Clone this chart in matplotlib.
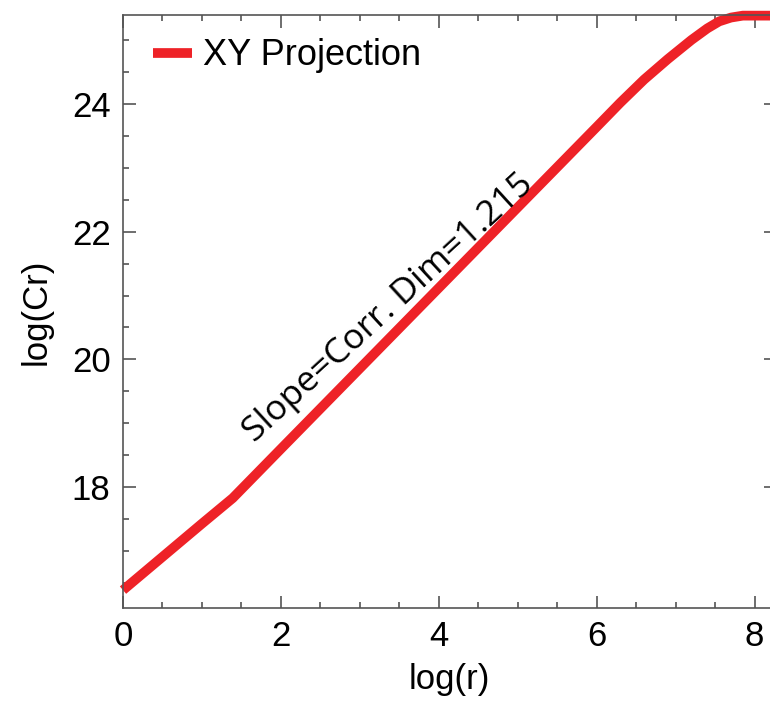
import matplotlib
matplotlib.use('Agg')
import matplotlib.pyplot as plt
from matplotlib.ticker import MultipleLocator

# correlation sum curve
log_r = [0.0, 0.5, 1.0, 1.39, 2.0, 3.0, 4.0, 5.0, 6.0, 6.3, 6.6, 6.9, 7.2, 7.4, 7.55, 7.7,
         7.85, 8.0, 8.3]
log_cr = [16.39, 16.91, 17.43, 17.83, 18.60, 19.86, 21.12, 22.38, 23.64, 24.02, 24.38, 24.70,
          25.00, 25.18, 25.29, 25.35, 25.38, 25.38, 25.38]

label = 'XY Projection'
note = 'Slope=Corr. Dim=1.215'

plt.rcParams['font.family'] = ['Liberation Sans', 'DejaVu Sans']

fig = plt.figure(figsize=(7.7, 7.01), dpi=100)
ax = fig.add_axes([123 / 770, 93 / 701, 653 / 770, 593 / 701])

ax.plot(log_r, log_cr, color='#ee2227', lw=7, solid_capstyle='butt', solid_joinstyle='round',
        clip_on=False, label=label)

ax.set_xlim(0, 8.27)
ax.set_ylim(16.11, 25.39)
ax.xaxis.set_major_locator(MultipleLocator(2))
ax.xaxis.set_minor_locator(MultipleLocator(0.5))
ax.yaxis.set_major_locator(MultipleLocator(2))
ax.yaxis.set_minor_locator(MultipleLocator(0.5))

for s in ax.spines.values():
    s.set_color('#555555')
    s.set_linewidth(1.2)
ax.tick_params(which='both', direction='in', top=True, right=True, color='#555555', width=1.2)
ax.tick_params(which='major', length=9, labelsize=25, pad=9)
ax.tick_params(which='minor', length=4.5)

ax.set_xlabel('log(r)', fontsize=25, labelpad=7)
ax.set_ylabel('log(Cr)', fontsize=25, labelpad=14)

ax.text(3.36, 20.8, note, rotation=42.5, ha='center', va='center', rotation_mode='anchor',
        fontsize=25.5, family=['Open Sans', 'DejaVu Sans'])

ax.legend(loc='upper left', frameon=False, fontsize=26, handlelength=1.1, handletextpad=0.3,
          borderaxespad=0.2, bbox_to_anchor=(0.012, 0.997))

fig.savefig('out.png', dpi=100)
